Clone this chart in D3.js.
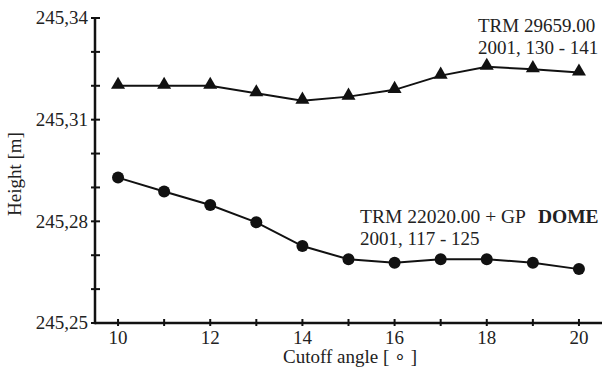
<!DOCTYPE html>
<html><head><meta charset="utf-8">
<script src="https://cdn.jsdelivr.net/npm/d3@7"></script>
<style>body{margin:0;background:#fff}svg text{font-family:"Liberation Serif","Times New Roman",serif;fill:#222}</style>
</head><body><svg id="c" width="602" height="370"></svg>
<script>
const cutoff = [10,11,12,13,14,15,16,17,18,19,20];
const trm29659 = [245.3200,245.3200,245.3200,245.3178,245.3156,245.3168,245.3188,245.3230,245.3256,245.3249,245.3239];
const trm22020 = [245.2929,245.2888,245.2848,245.2797,245.2727,245.2688,245.2678,245.2688,245.2688,245.2678,245.2659];
const yTicks = [245.25,245.26,245.27,245.28,245.29,245.30,245.31,245.32,245.33,245.34];
const yLabels = ["245,25","","","245,28","","","245,31","","","245,34"];
const xTicks = [10,11,12,13,14,15,16,17,18,19,20];
const xLabels = ["10","","12","","14","","16","","18","","20"];

const svg = d3.select("#c");
const x = d3.scaleLinear().domain([9.5,20.5]).range([95,602]);
const y = d3.scaleLinear().domain([245.25,245.34]).range([323,18]);

svg.append("line").attr("x1",x(9.5)).attr("x2",x(20.5)).attr("y1",y(245.25)).attr("y2",y(245.25)).attr("stroke","#111").attr("stroke-width",2.5);
svg.append("line").attr("x1",x(9.5)).attr("x2",x(9.5)).attr("y1",y(245.25)+1.25).attr("y2",y(245.34)).attr("stroke","#111").attr("stroke-width",2.5);

yTicks.forEach((t,i)=>{
  svg.append("line").attr("x1",x(9.5)-4).attr("x2",x(9.5)+5).attr("y1",y(t)).attr("y2",y(t)).attr("stroke","#111").attr("stroke-width",2);
  if(yLabels[i]) svg.append("text").attr("x",x(9.5)-7).attr("y",y(t)).attr("dy","0.34em").attr("text-anchor","end").attr("font-size",19).text(yLabels[i]);
});
xTicks.forEach((t,i)=>{
  svg.append("line").attr("x1",x(t)).attr("x2",x(t)).attr("y1",y(245.25)-4).attr("y2",y(245.25)+3).attr("stroke","#111").attr("stroke-width",2);
  if(xLabels[i]) svg.append("text").attr("x",x(t)).attr("y",344).attr("text-anchor","middle").attr("font-size",19).text(xLabels[i]);
});
svg.append("text").attr("x",350).attr("y",363).attr("text-anchor","middle").attr("font-size",19).text("Cutoff angle [ \u2218 ]");
svg.append("text").attr("transform","translate(21,174) rotate(-90)").attr("text-anchor","middle").attr("font-size",19).text("Height [m]");

const line = d3.line().x((d,i)=>x(cutoff[i])).y(d=>y(d));
svg.append("path").attr("d",line(trm29659)).attr("fill","none").attr("stroke","#111").attr("stroke-width",2);
svg.append("path").attr("d",line(trm22020)).attr("fill","none").attr("stroke","#111").attr("stroke-width",2);

const tri = d3.symbol().type(d3.symbolTriangle).size(85);
svg.selectAll(".tri").data(trm29659).enter().append("path")
  .attr("transform",(d,i)=>`translate(${x(cutoff[i])},${y(d)-1})`).attr("d",tri).attr("fill","#111");
svg.selectAll(".cir").data(trm22020).enter().append("circle")
  .attr("cx",(d,i)=>x(cutoff[i])).attr("cy",d=>y(d)).attr("r",6).attr("fill","#111");

svg.append("text").attr("x",478).attr("y",32).attr("font-size",19).text("TRM 29659.00");
svg.append("text").attr("x",478).attr("y",54).attr("font-size",19).text("2001, 130 - 141");
const t1 = svg.append("text").attr("x",360).attr("y",223).attr("font-size",19.5);
t1.append("tspan").text("TRM 22020.00 + GP");
t1.append("tspan").attr("dx",12).attr("font-weight","bold").text("DOME");
svg.append("text").attr("x",360).attr("y",245).attr("font-size",19).text("2001, 117 - 125");
</script></body></html>
